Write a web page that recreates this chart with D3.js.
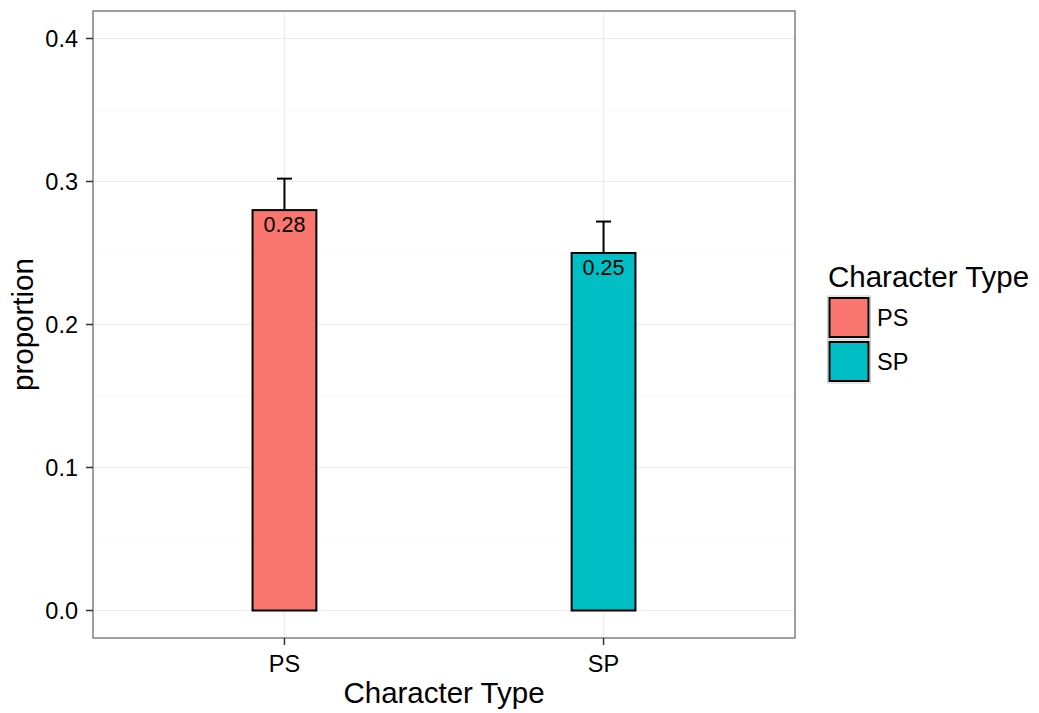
<!DOCTYPE html>
<html><head><meta charset="utf-8">
<script src="https://cdn.jsdelivr.net/npm/d3@7"></script>
<style>body{margin:0;background:#fff;} text{font-family:"Liberation Sans",Arial,Helvetica,sans-serif;}</style>
</head><body>
<svg id="c" width="1039" height="713"></svg>
<script>
const categories = ["PS", "SP"];
const values = [0.28, 0.25];
const upper = [0.302, 0.272];
const labels = ["0.28", "0.25"];
const colors = ["#F8766D", "#00BFC4"];
const yTicks = [0.0, 0.1, 0.2, 0.3, 0.4];
const yMinor = [0.05, 0.15, 0.25, 0.35];

const svg = d3.select("#c");
const P = {l: 93, r: 795, t: 11, b: 638};
const x = d3.scalePoint().domain(categories).range([P.l, P.r]).padding(0.6);
const y = d3.scaleLinear().domain([0, 0.4]).range([610.5, 38.5]);
const unit = x.step();
const bw = unit * 0.2;
const tickFs = 23.5, titleFs = 29.5, labFs = 21.5;

// panel background
svg.append("rect").attr("x", P.l).attr("y", P.t).attr("width", P.r - P.l).attr("height", P.b - P.t).attr("fill", "#fff");
// grid
const g = svg.append("g");
g.selectAll(".mn").data(yMinor).enter().append("line")
  .attr("x1", P.l).attr("x2", P.r).attr("y1", d => y(d)).attr("y2", d => y(d))
  .attr("stroke", "#F2F2F2").attr("stroke-width", 0.6);
g.selectAll(".mj").data(yTicks).enter().append("line")
  .attr("x1", P.l).attr("x2", P.r).attr("y1", d => y(d)).attr("y2", d => y(d))
  .attr("stroke", "#EBEBEB").attr("stroke-width", 1.1);
g.selectAll(".vx").data(categories).enter().append("line")
  .attr("x1", d => x(d)).attr("x2", d => x(d)).attr("y1", P.t).attr("y2", P.b)
  .attr("stroke", "#EBEBEB").attr("stroke-width", 1.1);

// error bars
const eb = svg.append("g");
categories.forEach((c, i) => {
  eb.append("line").attr("x1", x(c)).attr("x2", x(c)).attr("y1", y(values[i])).attr("y2", y(upper[i]))
    .attr("stroke", "#000").attr("stroke-width", 2);
  eb.append("line").attr("x1", x(c) - 7.5).attr("x2", x(c) + 7.5).attr("y1", y(upper[i])).attr("y2", y(upper[i]))
    .attr("stroke", "#000").attr("stroke-width", 2);
});

// bars
svg.selectAll(".bar").data(categories).enter().append("rect")
  .attr("x", d => x(d) - bw / 2).attr("width", bw)
  .attr("y", (d, i) => y(values[i])).attr("height", (d, i) => y(0) - y(values[i]))
  .attr("fill", (d, i) => colors[i]).attr("stroke", "#000").attr("stroke-width", 2);

// labels
svg.selectAll(".lab").data(categories).enter().append("text")
  .attr("x", d => x(d)).attr("y", (d, i) => y(values[i]) + 21.5)
  .attr("text-anchor", "middle").attr("font-size", labFs).attr("fill", "#000")
  .text((d, i) => labels[i]);

// panel border
svg.append("rect").attr("x", P.l).attr("y", P.t).attr("width", P.r - P.l).attr("height", P.b - P.t)
  .attr("fill", "none").attr("stroke", "#7F7F7F").attr("stroke-width", 1.5);

// y axis
const ya = svg.append("g");
yTicks.forEach(t => {
  ya.append("line").attr("x1", P.l - 7).attr("x2", P.l).attr("y1", y(t)).attr("y2", y(t)).attr("stroke", "#333").attr("stroke-width", 1.5);
  ya.append("text").attr("x", 78).attr("y", y(t)).attr("dy", "0.35em").attr("text-anchor", "end")
    .attr("font-size", tickFs).attr("fill", "#000").text(d3.format(".1f")(t));
});
// x axis
const xa = svg.append("g");
categories.forEach(c => {
  xa.append("line").attr("x1", x(c)).attr("x2", x(c)).attr("y1", P.b).attr("y2", P.b + 7).attr("stroke", "#333").attr("stroke-width", 1.5);
  xa.append("text").attr("x", x(c)).attr("y", 671.5).attr("text-anchor", "middle")
    .attr("font-size", tickFs).attr("fill", "#000").text(c);
});

// axis titles
svg.append("text").attr("x", (P.l + P.r) / 2).attr("y", 703).attr("text-anchor", "middle")
  .attr("font-size", titleFs).attr("fill", "#000").text("Character Type");
svg.append("text").attr("transform", `translate(33,${(P.t + P.b) / 2}) rotate(-90)`).attr("text-anchor", "middle")
  .attr("font-size", titleFs).attr("fill", "#000").text("proportion");

// legend
const lg = svg.append("g");
lg.append("text").attr("x", 828).attr("y", 286.5).attr("font-size", titleFs).attr("fill", "#000").text("Character Type");
categories.forEach((c, i) => {
  const ky = 296 + i * 44;
  lg.append("rect").attr("x", 827.5).attr("y", ky).attr("width", 43).attr("height", 43)
    .attr("fill", "#fff").attr("stroke", "#CCCCCC").attr("stroke-width", 1);
  lg.append("rect").attr("x", 829.5).attr("y", ky + 2).attr("width", 39).attr("height", 39)
    .attr("fill", colors[i]).attr("stroke", "#000").attr("stroke-width", 2);
  lg.append("text").attr("x", 877).attr("y", ky + 22).attr("dy", "0.35em").attr("font-size", tickFs).attr("fill", "#000").text(c);
});
</script>
</body></html>
